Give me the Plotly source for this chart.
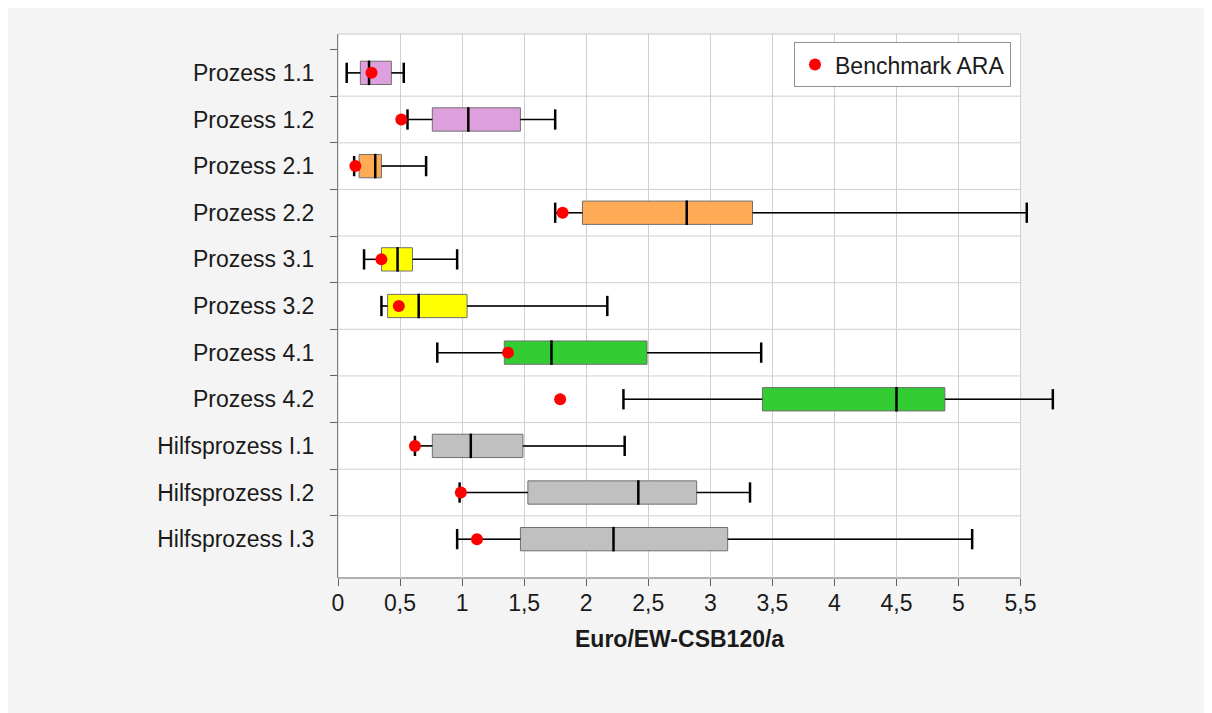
import plotly.graph_objects as go

# Kategorien (von oben nach unten)
categories = [
    "Prozess 1.1", "Prozess 1.2", "Prozess 2.1", "Prozess 2.2",
    "Prozess 3.1", "Prozess 3.2", "Prozess 4.1", "Prozess 4.2",
    "Hilfsprozess I.1", "Hilfsprozess I.2", "Hilfsprozess I.3",
]

# Kennwerte der Boxplots in Euro/EW-CSB120/a
lower = [0.07, 0.56, 0.13, 1.75, 0.21, 0.35, 0.80, 2.30, 0.62, 0.98, 0.96]
q1 = [0.18, 0.76, 0.17, 1.97, 0.35, 0.40, 1.34, 3.42, 0.76, 1.53, 1.47]
median = [0.25, 1.05, 0.30, 2.81, 0.48, 0.65, 1.72, 4.50, 1.07, 2.42, 2.22]
q3 = [0.43, 1.47, 0.35, 3.34, 0.60, 1.04, 2.49, 4.89, 1.49, 2.89, 3.14]
upper = [0.53, 1.75, 0.71, 5.55, 0.96, 2.17, 3.41, 5.76, 2.31, 3.32, 5.11]

# Benchmark ARA
benchmark = [0.27, 0.51, 0.14, 1.81, 0.35, 0.49, 1.37, 1.79, 0.62, 0.99, 1.12]

box_colors = [
    "#DDA0DD", "#DDA0DD", "#FFAA55", "#FFAA55", "#FFFF00", "#FFFF00",
    "#33CC33", "#33CC33", "#C0C0C0", "#C0C0C0", "#C0C0C0",
]

tick_vals = [0, 0.5, 1, 1.5, 2, 2.5, 3, 3.5, 4, 4.5, 5, 5.5]
tick_text = ["0", "0,5", "1", "1,5", "2", "2,5", "3", "3,5", "4", "4,5", "5", "5,5"]

FONT = "Liberation Sans, Arial, sans-serif"
X_MAX = 5.5

fig = go.Figure()

for i, cat in enumerate(categories):
    fig.add_trace(go.Box(
        y=[cat], q1=[q1[i]], median=[median[i]], q3=[q3[i]],
        lowerfence=[lower[i]], upperfence=[upper[i]],
        orientation="h", width=0.5, whiskerwidth=0,
        fillcolor=box_colors[i],
        line=dict(color="#707070", width=1),
        showlegend=False, hoverinfo="skip",
    ))

# schwarze Whisker
wx, wy = [], []
for i, cat in enumerate(categories):
    wx += [lower[i], q1[i], None, q3[i], upper[i], None]
    wy += [cat, cat, None, cat, cat, None]
fig.add_trace(go.Scatter(
    x=wx, y=wy, mode="lines", line=dict(color="black", width=1.5),
    showlegend=False, hoverinfo="skip", connectgaps=False,
))

# Endkappen
fig.add_trace(go.Scatter(
    x=lower + upper, y=categories + categories, mode="markers",
    marker=dict(symbol="line-ns", size=14.5, line=dict(color="black", width=2.5)),
    showlegend=False, hoverinfo="skip", cliponaxis=False,
))

# Mediane
fig.add_trace(go.Scatter(
    x=median, y=categories, mode="markers",
    marker=dict(symbol="line-ns", size=17.5, line=dict(color="black", width=2.5)),
    showlegend=False, hoverinfo="skip",
))

fig.add_trace(go.Scatter(
    x=benchmark, y=categories, mode="markers", name="Benchmark ARA",
    marker=dict(color="#FF0000", size=12),
))

shapes = [
    # weisse Zeichenflaeche
    dict(type="rect", xref="x", yref="paper", x0=0, x1=X_MAX, y0=0, y1=1,
         fillcolor="white", line=dict(color="#C8C8C8", width=1), layer="below"),
    # x-Achsenlinie
    dict(type="line", xref="x", yref="paper", x0=0, x1=X_MAX, y0=0, y1=0,
         line=dict(color="#808080", width=1), layer="below"),
]
for k in range(len(categories) - 1):
    shapes.append(dict(type="line", xref="x", yref="y", x0=0, x1=X_MAX, y0=k + 0.5, y1=k + 0.5,
                       line=dict(color="#D0D0D0", width=1), layer="below"))

fig.update_layout(
    width=1212, height=713,
    margin=dict(l=330, r=156, t=26, b=143),
    paper_bgcolor="#F4F4F4", plot_bgcolor="#F4F4F4",
    font=dict(family=FONT, size=23, color="#1A1A1A"),
    boxmode="overlay",
    shapes=shapes,
    showlegend=True,
    legend=dict(
        x=0.927, y=0.985, xanchor="right", yanchor="top",
        bgcolor="white", bordercolor="#909090", borderwidth=1,
        font=dict(size=23), itemwidth=30,
    ),
    xaxis=dict(
        range=[0, 5.85], tickvals=tick_vals, ticktext=tick_text,
        showgrid=True, gridcolor="#D0D0D0", gridwidth=1, zeroline=False,
        showline=False, ticks="outside", ticklen=7, tickcolor="#606060",
        ticklabelstandoff=-3, tickfont=dict(size=23),
    ),
    yaxis=dict(
        categoryorder="array", categoryarray=categories, autorange="reversed",
        showgrid=False, zeroline=False, showline=True, linecolor="#808080",
        ticks="outside", tickson="boundaries", ticklen=7, tickcolor="#606060",
        ticklabelstandoff=18, tickfont=dict(size=23),
    ),
    annotations=[dict(
        x=X_MAX / 2, y=-0.112, xref="x", yref="paper", showarrow=False,
        text="<b>Euro/EW-CSB120/a</b>", font=dict(size=23, color="#1A1A1A"),
        xanchor="center", yanchor="middle",
    )],
)

fig.write_html("out.html")
